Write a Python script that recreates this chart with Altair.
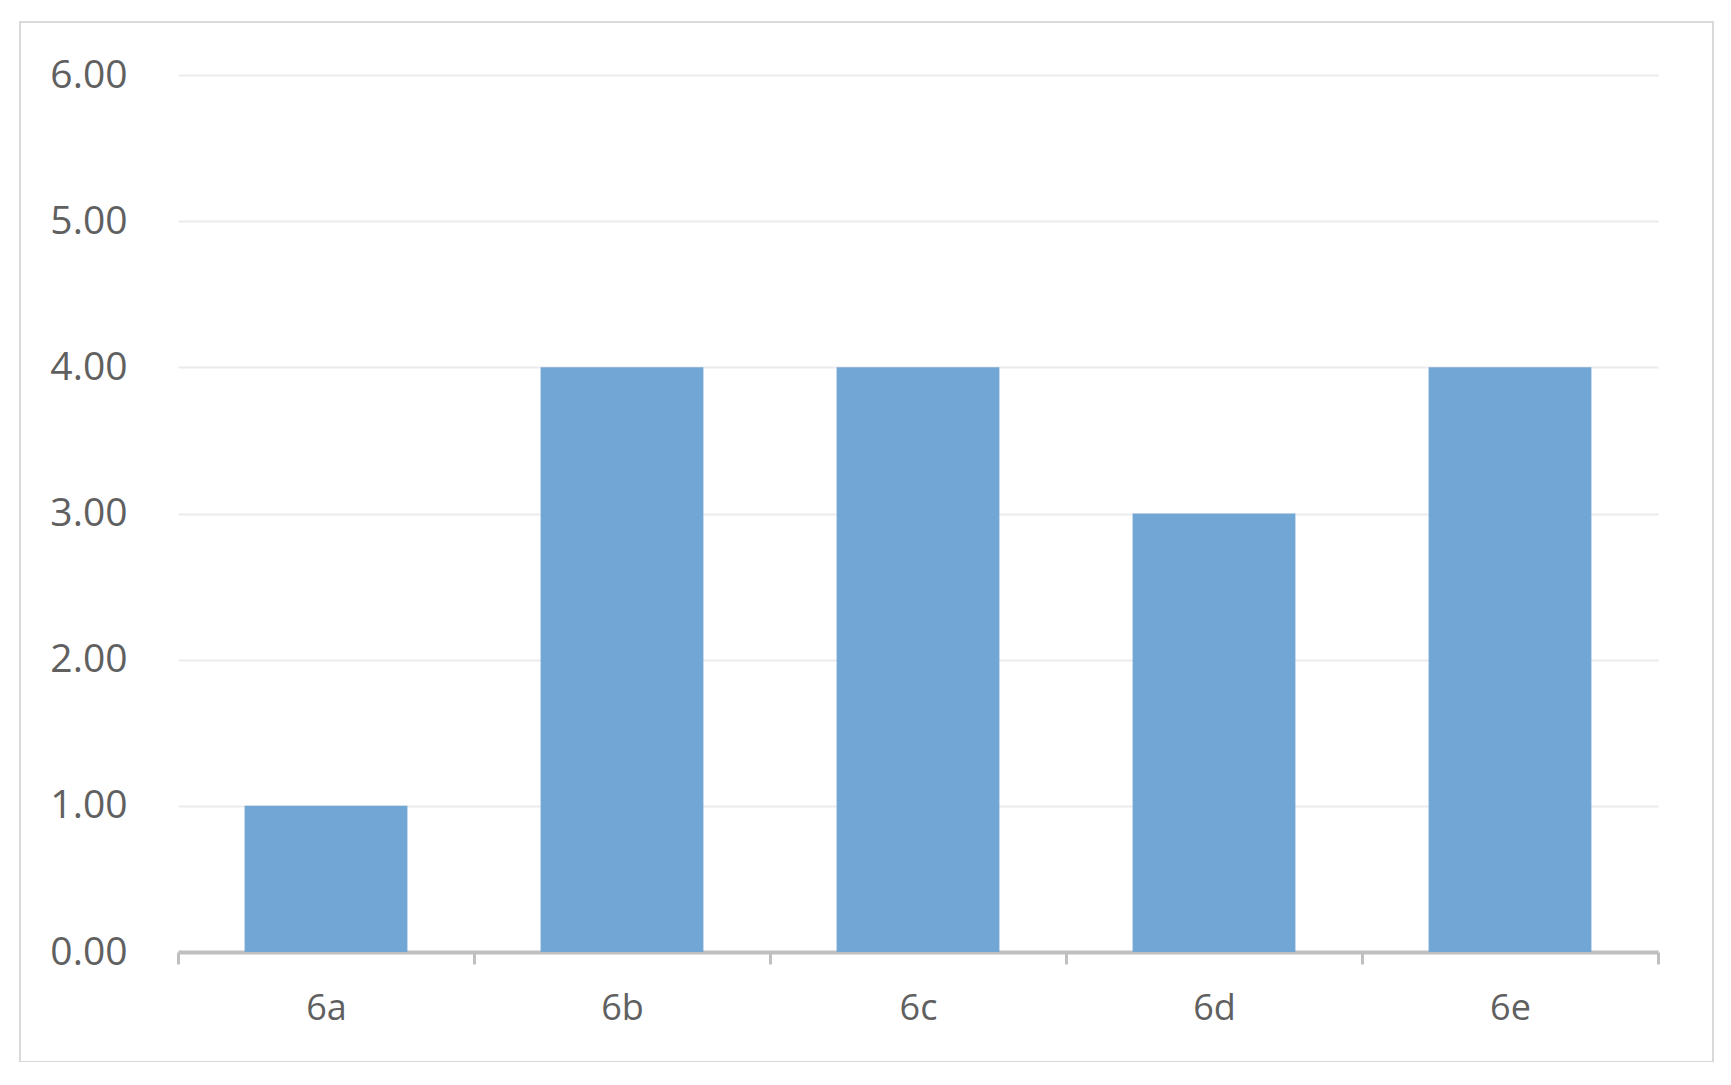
import altair as alt
import pandas as pd

categories = ["6a", "6b", "6c", "6d", "6e"]
values = [1.0, 4.0, 4.0, 3.0, 4.0]
y_ticks = [0, 1, 2, 3, 4, 5, 6]

df = pd.DataFrame({"cat": categories, "val": values})

W, H = 1480, 877

bars = alt.Chart(df).mark_bar(color="#72A6D4", width={"band": 0.55}).encode(
    x=alt.X("cat:N", sort=categories, title=None,
            scale=alt.Scale(paddingInner=0, paddingOuter=0),
            axis=alt.Axis(labelAngle=0, labelFont="Open Sans", labelFontSize=36,
                          labelColor="#606060", labelBaseline="middle",
                          labelPadding=44, tickBand="extent", tickSize=12,
                          tickColor="#BFBFBF", tickWidth=3,
                          domainColor="#BFBFBF", domainWidth=4, grid=False)),
    y=alt.Y("val:Q", title=None,
            scale=alt.Scale(domain=[0, 6], nice=False),
            axis=alt.Axis(values=y_ticks, format=".2f", labelFont="Open Sans",
                          labelFontSize=39, labelColor="#606060", labelPadding=51,
                          tickSize=0, domain=False, grid=True,
                          gridColor="#EBEBEB", gridWidth=2)),
)

border = alt.Chart(pd.DataFrame({"k": [0]})).mark_rect(
    fill=None, stroke="#D9D9D9", strokeWidth=2, clip=False
).encode(
    x=alt.value(-158), x2=alt.value(1535),
    y=alt.value(-53), y2=alt.value(987),
)

chart = alt.layer(border, bars).properties(
    width=W, height=H,
    autosize=alt.AutoSizeParams(type="none"),
    padding={"left": 170, "top": 67, "right": 60, "bottom": 110},
).configure(background="white").configure_view(stroke=None)

chart.save("out.html", embed_options={"renderer": "svg", "actions": False})
